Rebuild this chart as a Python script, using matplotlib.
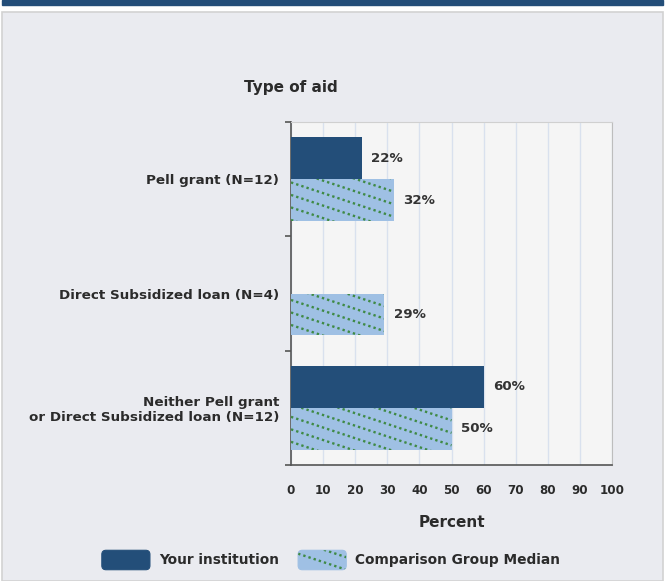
import numpy as np
import matplotlib
matplotlib.use('Agg')
import matplotlib.pyplot as plt
from matplotlib.patches import Patch, Rectangle, FancyBboxPatch
from matplotlib.collections import LineCollection
from matplotlib.legend_handler import HandlerPatch
from matplotlib.lines import Line2D

# ── Data ──────────────────────────────────────────────────────────────────────
categories = ['Pell grant (N=12)',
              'Direct Subsidized loan (N=4)',
              'Neither Pell grant\nor Direct Subsidized loan (N=12)']
institution = [22, np.nan, 60]
comparison = [32, 29, 50]
xticks = [0, 10, 20, 30, 40, 50, 60, 70, 80, 90, 100]

# ── Style ─────────────────────────────────────────────────────────────────────
DARK = '#234e79'
LIGHT = '#9fc0e4'
DOTS = '#3f8a45'
TXT = '#2b2b2b'
DOT_LS = (0, (1.0, 1.3))
plt.rcParams.update({'font.family': 'DejaVu Sans', 'font.weight': 'bold',
                     'axes.labelweight': 'bold'})

fig = plt.figure(figsize=(6.65, 5.81), dpi=100)
fig.patch.set_facecolor('white')

# page frame: top band and grey panel
fig.patches.append(Rectangle((2/665, 1 - 5/581), 661/665, 5/581,
                             transform=fig.transFigure, color=DARK, zorder=-2))
fig.patches.append(Rectangle((2/665, 0), 661/665, 1 - 12/581,
                             transform=fig.transFigure, facecolor='#eaebf0',
                             edgecolor='#d2d2d2', lw=1.2, zorder=-2))

ax = fig.add_axes([291/665, 1 - 465/581, 321/665, 343/581])
ax.set_facecolor('#f5f5f5')

y = np.arange(len(categories))
h = 0.367
ax.barh(y - h/2, institution, height=h, color=DARK, zorder=3)
hbars = ax.barh(y + h/2, comparison, height=h, color=LIGHT, zorder=3)

ax.set_xlim(0, 100)
ax.set_ylim(2.5, -0.5)

# dotted diagonal hatch, clipped to each comparison bar
px_x = 321 / 100.0
px_y = 343 / 3.0
slope = (1/3.0) * px_x / px_y   # data units, display slope ~1/3 downward
gap = 12.5 / px_y
for bar in hbars:
    x0, y0 = bar.get_x(), bar.get_y()
    w, hh = bar.get_width(), bar.get_height()
    segs = []
    c = y0 - slope * w - gap
    while c < y0 + hh + gap:
        segs.append([(x0, c), (x0 + w, c + slope * w)])
        c += gap
    lc = LineCollection(segs, colors=DOTS, linewidths=1.7,
                        linestyles=[DOT_LS], zorder=4)
    ax.add_collection(lc)
    lc.set_clip_path(bar)

# value labels
for yi, v in zip(y - h/2, institution):
    if not np.isnan(v):
        ax.text(v + 3, yi, f'{v:.0f}%', va='center', ha='left',
                fontsize=9.6, color='#333333', zorder=5)
for yi, v in zip(y + h/2, comparison):
    ax.text(v + 3, yi, f'{v:.0f}%', va='center', ha='left',
            fontsize=9.6, color='#333333', zorder=5)

# grid and spines
ax.set_xticks(xticks)
ax.set_xticklabels([str(t) for t in xticks], fontsize=8.6, color=TXT)
ax.grid(axis='x', color='#d9e1ee', lw=1, zorder=0)
ax.tick_params(axis='x', length=0, pad=13.5)
ax.set_yticks(y)
ax.set_yticklabels(categories, fontsize=9.7, color=TXT)
ax.tick_params(axis='y', which='major', length=0, pad=8.6)
ax.set_yticks([-0.5, 0.5, 1.5, 2.5], minor=True)
ax.tick_params(axis='y', which='minor', length=4, width=1.2, color='#555555')
for lbl in ax.get_yticklabels():
    lbl.set_multialignment('right')
ax.spines['left'].set_color('#555555')
ax.spines['left'].set_linewidth(1.2)
ax.spines['bottom'].set_color('#555555')
ax.spines['bottom'].set_linewidth(1.2)
ax.spines['top'].set_color('#d0d0d0')
ax.spines['right'].set_color('#bdbdbd')

ax.set_xlabel('Percent', fontsize=11, color=TXT, labelpad=13)
fig.text(291/665, 1 - 87/581, 'Type of aid', ha='center', va='center',
         fontsize=11, color=TXT)


# legend: rounded swatches, dotted diagonals on the comparison swatch
class RoundHandler(HandlerPatch):
    def __init__(self, dotted=False):
        super().__init__()
        self.dotted = dotted

    def create_artists(self, legend, orig_handle, xdescent, ydescent,
                       width, height, fontsize, trans):
        p = FancyBboxPatch((-xdescent, -ydescent), width, height,
                           boxstyle='round,pad=0,rounding_size=3')
        self.update_prop(p, orig_handle, legend)
        p.set_transform(trans)
        arts = [p]
        if self.dotted:
            step = 9.0          # points between lines
            sl = 1/3.0
            c = -ydescent + sl * width
            top = -ydescent + height + sl * width + step
            while c < top:
                ln = Line2D([-xdescent, -xdescent + width],
                            [c, c - sl * width], color=DOTS, lw=1.7,
                            linestyle=DOT_LS)
                ln.set_transform(trans)
                ln.set_clip_path(p)
                arts.append(ln)
                c += step
        return arts


h_inst = Patch(facecolor=DARK, edgecolor=DARK, lw=0.8,
               label='Your institution')
h_comp = Patch(facecolor=LIGHT, edgecolor=LIGHT, lw=0.8,
               label='Comparison Group Median')
leg = fig.legend(handles=[h_inst, h_comp], loc='center', ncol=2,
                 frameon=False, bbox_to_anchor=(331/665, 1 - 560/581),
                 handlelength=3.5, handleheight=1.8, handletextpad=0.65,
                 columnspacing=1.4, fontsize=9.9,
                 handler_map={h_inst: RoundHandler(False),
                              h_comp: RoundHandler(True)})
for t in leg.get_texts():
    t.set_color(TXT)

fig.savefig('out.png', dpi=100)
